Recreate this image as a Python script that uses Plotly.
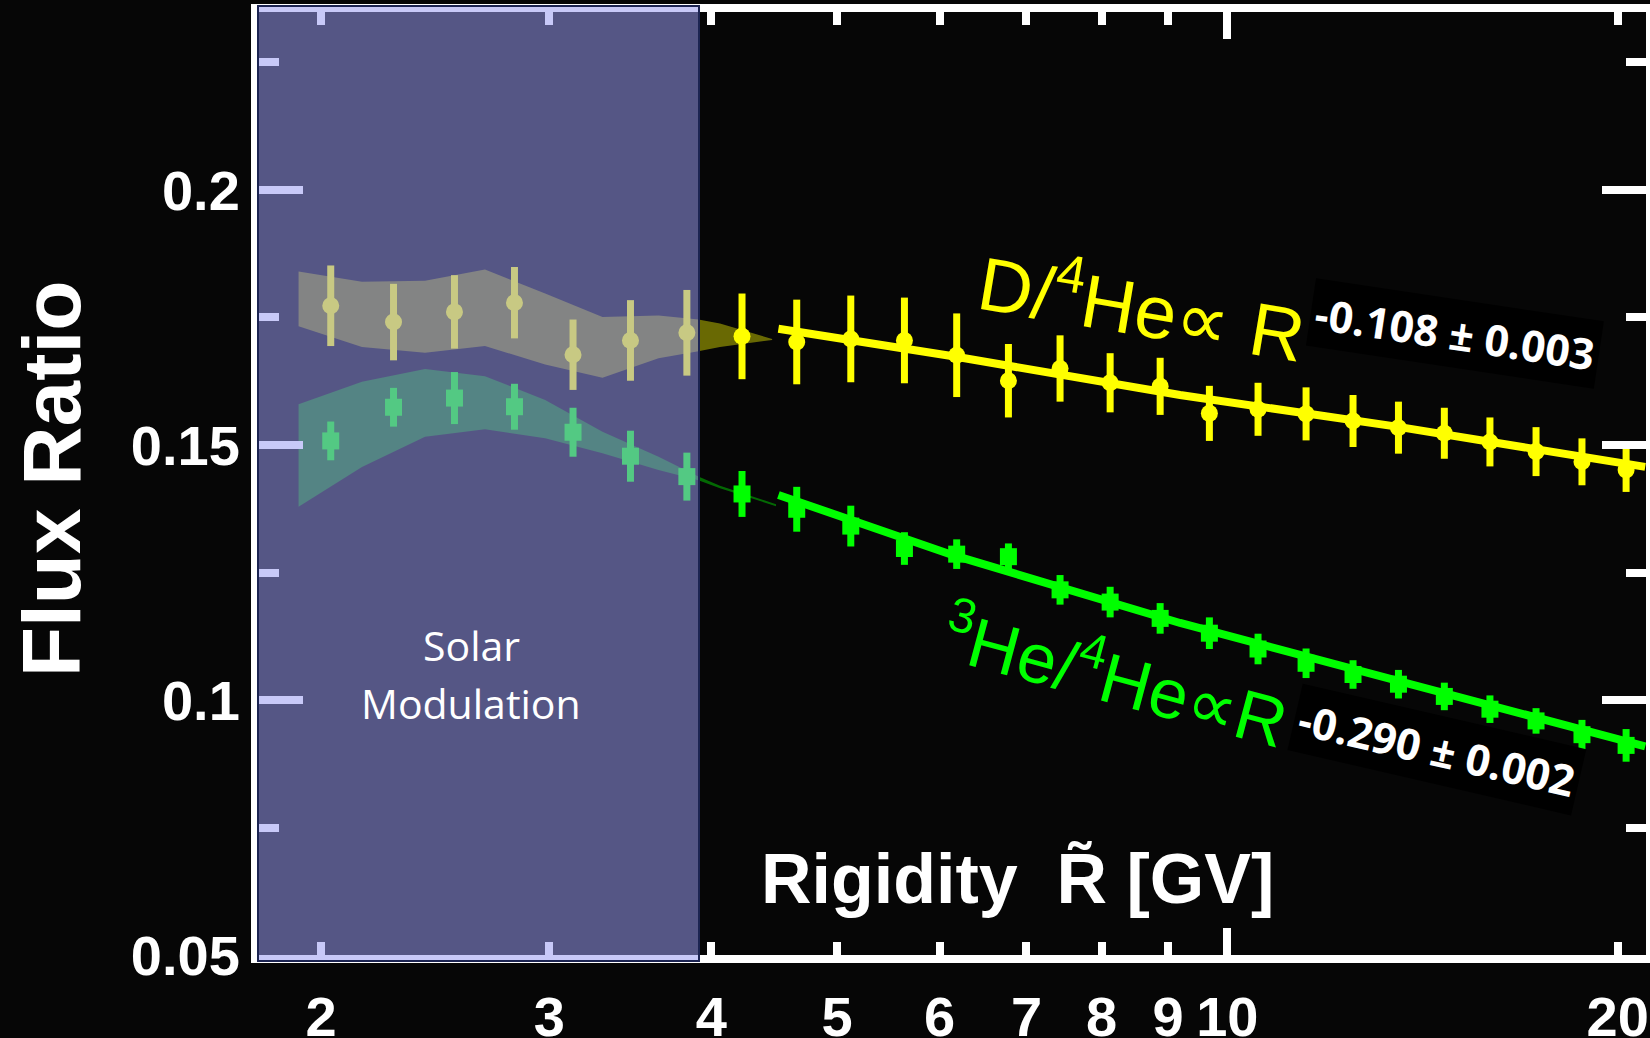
import math
import plotly.graph_objects as go

# ---------------- data ----------------
rigidity = [2.035, 2.275, 2.535, 2.820, 3.129, 3.465, 3.830, 4.224, 4.655, 5.124,
            5.636, 6.184, 6.779, 7.430, 8.121, 8.875, 9.686, 10.56, 11.50, 12.50,
            13.55, 14.70, 15.94, 17.30, 18.77, 20.30]
d_he4 = [0.1773, 0.1741, 0.1761, 0.1779, 0.1677, 0.1705, 0.1720, 0.1713, 0.1702, 0.1708,
         0.1705, 0.1676, 0.1626, 0.1650, 0.1622, 0.1615, 0.1562, 0.1570, 0.1561, 0.1547,
         0.1534, 0.1523, 0.1506, 0.1487, 0.1467, 0.1451]
d_he4_err = [0.0079, 0.0075, 0.0072, 0.0070, 0.0069, 0.0079, 0.0084, 0.0084, 0.0083, 0.0085,
             0.0084, 0.0082, 0.0072, 0.0065, 0.0058, 0.0056, 0.0054, 0.0052, 0.0052, 0.0051,
             0.0051, 0.0050, 0.0048, 0.0048, 0.0046, 0.0043]
he3_he4 = [0.1508, 0.1574, 0.1592, 0.1575, 0.1525, 0.1478, 0.1438, 0.1404, 0.1374, 0.1341,
           0.1297, 0.1286, 0.1281, 0.1216, 0.1192, 0.1160, 0.1131, 0.1100, 0.1072, 0.1050,
           0.1031, 0.1007, 0.0982, 0.0959, 0.0932, 0.0911]
he3_he4_err = [0.0038, 0.0038, 0.0051, 0.0045, 0.0048, 0.0050, 0.0047, 0.0045, 0.0044, 0.0040,
               0.0032, 0.0029, 0.0026, 0.0029, 0.0030, 0.0030, 0.0031, 0.0030, 0.0029, 0.0028,
               0.0028, 0.0027, 0.0027, 0.0025, 0.0029, 0.0032]

# solar-modulation model bands
d_band_R = [1.922, 2.151, 2.406, 2.676, 2.978, 3.297, 3.642, 3.909, 4.062, 4.456]
d_band_hi = [0.1840, 0.1820, 0.1822, 0.1844, 0.1797, 0.1751, 0.1754, 0.1746, 0.1738, 0.1708]
d_band_lo = [0.1733, 0.1692, 0.1681, 0.1694, 0.1658, 0.1632, 0.1670, 0.1684, 0.1692, 0.1706]
he_band_R = [1.922, 2.151, 2.406, 2.676, 2.978, 3.297, 3.642, 3.909, 4.062, 4.487]
he_band_hi = [0.1580, 0.1624, 0.1649, 0.1635, 0.1588, 0.1526, 0.1477, 0.1438, 0.1420, 0.1384]
he_band_lo = [0.1379, 0.1457, 0.1516, 0.1531, 0.1513, 0.1484, 0.1451, 0.1431, 0.1415, 0.1380]

# power-law fit lines
fit_R = [4.506, 6.145, 9.195, 13.51, 21.0]
d_fit = [0.1728, 0.1674, 0.1598, 0.1536, 0.1457]
he_fit = [0.1402, 0.1284, 0.1151, 0.1040, 0.0909]

x_tick_vals = [2, 3, 4, 5, 6, 7, 8, 9, 10, 20]
x_tick_text = ["2", "3", "4", "5", "6", "7", "8", "9", "10", "20"]
y_tick_vals = [0.05, 0.1, 0.15, 0.2]
y_tick_text = ["0.05", "0.1", "0.15", "0.2"]
y_minor_vals = [0.075, 0.125, 0.175, 0.225]
x_range = [1.7916, 21.03]
y_range = [0.05, 0.2349]

# ---------------- layout geometry ----------------
W, H = 1650, 1038
ML, MR, MT, MB = 259, 4, 12, 83
PW, PH = W - ML - MR, H - MT - MB


def xp(px):
    return (px - ML) / PW


def yp(py):
    return (H - MB - py) / PH


YEL = "#ffff00"
GRN = "#00ff00"
WHITE = "#ffffff"
BG = "#060606"

fig = go.Figure()

# bands
fig.add_trace(go.Scatter(x=d_band_R + d_band_R[::-1], y=d_band_hi + d_band_lo[::-1],
                         fill="toself", fillcolor="rgba(255,255,0,0.40)", line=dict(width=0),
                         mode="lines", hoverinfo="skip"))
fig.add_trace(go.Scatter(x=he_band_R + he_band_R[::-1], y=he_band_hi + he_band_lo[::-1],
                         fill="toself", fillcolor="rgba(0,255,0,0.40)", line=dict(width=0),
                         mode="lines", hoverinfo="skip"))

# fit lines (on overlaying x axis that also carries the long "10" tick)
fig.add_trace(go.Scatter(x=fit_R, y=d_fit, mode="lines", line=dict(color=YEL, width=8),
                         xaxis="x2", yaxis="y"))
fig.add_trace(go.Scatter(x=fit_R, y=he_fit, mode="lines", line=dict(color=GRN, width=8),
                         xaxis="x2", yaxis="y"))

# data points
fig.add_trace(go.Scatter(x=rigidity, y=d_he4, mode="markers",
                         marker=dict(symbol="circle", size=17, color=YEL, line=dict(width=0)),
                         error_y=dict(type="data", array=d_he4_err, color=YEL, thickness=7, width=0)))
fig.add_trace(go.Scatter(x=rigidity, y=he3_he4, mode="markers",
                         marker=dict(symbol="square", size=17, color=GRN, line=dict(width=0)),
                         error_y=dict(type="data", array=he3_he4_err, color=GRN, thickness=7, width=0)))

lr = [math.log10(x_range[0]), math.log10(x_range[1])]
tickfont = dict(family="Liberation Sans, Arial, sans-serif", size=56, color=WHITE, weight="bold")

fig.update_layout(
    width=W, height=H, autosize=False,
    margin=dict(l=ML, r=MR, t=MT, b=MB, pad=0, autoexpand=False),
    paper_bgcolor=BG, plot_bgcolor=BG,
    showlegend=False,
    xaxis=dict(type="log", range=lr, tickmode="array", tickvals=x_tick_vals, ticktext=x_tick_text,
               ticks="inside", ticklen=13, tickwidth=8, tickcolor=WHITE,
               showline=True, linewidth=8, linecolor=WHITE, mirror="ticks",
               showgrid=False, zeroline=False, tickfont=tickfont, ticklabelstandoff=6,
               automargin=False),
    xaxis2=dict(type="log", range=lr, overlaying="x", anchor="y", side="bottom",
                tickmode="array", tickvals=[10], ticks="inside", ticklen=27, tickwidth=8,
                tickcolor=WHITE, showticklabels=False, showline=False, mirror="ticks",
                showgrid=False, zeroline=False, automargin=False),
    yaxis=dict(range=y_range, tickmode="array", tickvals=y_tick_vals, ticktext=y_tick_text,
               ticks="inside", ticklen=44, tickwidth=8, tickcolor=WHITE,
               showline=True, linewidth=8, linecolor=WHITE, mirror="ticks",
               showgrid=False, zeroline=False, tickfont=tickfont, ticklabelstandoff=0,
               automargin=False,
               minor=dict(tickmode="array", tickvals=y_minor_vals, ticks="inside", ticklen=20,
                          tickwidth=8, tickcolor=WHITE, showgrid=False)),
)

# solar modulation overlay
fig.add_shape(type="rect", xref="paper", yref="paper",
              x0=xp(258), x1=xp(699), y0=yp(961), y1=yp(6),
              fillcolor="rgba(153,156,242,0.54)", line=dict(color="#1c2452", width=2),
              layer="above")

ann = []
ann.append(dict(text="Solar", x=xp(471.5), y=yp(645), xref="paper", yref="paper",
                showarrow=False, xanchor="center", yanchor="middle",
                font=dict(family="Open Sans, Noto Sans, sans-serif", size=41, color=WHITE)))
ann.append(dict(text="Modulation", x=xp(470.6), y=yp(703), xref="paper", yref="paper",
                showarrow=False, xanchor="center", yanchor="middle",
                font=dict(family="Open Sans, Noto Sans, sans-serif", size=41, color=WHITE)))
ann.append(dict(text="Flux Ratio", x=xp(52), y=yp(479), xref="paper", yref="paper",
                showarrow=False, xanchor="center", yanchor="middle", textangle=-90,
                font=dict(family="Liberation Sans, Arial, sans-serif", size=82, color=WHITE,
                          weight="bold")))
ann.append(dict(text="Rigidity\u00a0\u00a0R\u0303 [GV]", x=xp(1017), y=yp(879),
                xref="paper", yref="paper", showarrow=False, xanchor="center", yanchor="middle",
                font=dict(family="Liberation Sans, Arial, sans-serif", size=70, color=WHITE,
                          weight="bold")))
ann.append(dict(text="D/<sup>4</sup>He\u221d R", x=xp(1142), y=yp(304), xref="paper", yref="paper",
                showarrow=False, xanchor="center", yanchor="middle", textangle=9.5,
                font=dict(family="Liberation Sans, Arial, sans-serif", size=75, color=YEL)))
ann.append(dict(text="-0.108 \u00b1 0.003", x=xp(1455), y=yp(333), xref="paper", yref="paper",
                showarrow=False, xanchor="center", yanchor="middle", textangle=8.5,
                bgcolor="#000000", borderpad=4,
                font=dict(family="Open Sans, Noto Sans, sans-serif", size=43, color=WHITE,
                          weight="bold")))
ann.append(dict(text="<sup>3</sup>He/<sup>4</sup>He\u221dR", x=xp(1115.5), y=yp(674.5),
                xref="paper", yref="paper", showarrow=False, xanchor="center", yanchor="middle",
                textangle=15,
                font=dict(family="Liberation Sans, Arial, sans-serif", size=70, color=GRN)))
ann.append(dict(text="-0.290 \u00b1 0.002", x=xp(1436.7), y=yp(749), xref="paper", yref="paper",
                showarrow=False, xanchor="center", yanchor="middle", textangle=13,
                bgcolor="#000000", borderpad=4,
                font=dict(family="Open Sans, Noto Sans, sans-serif", size=43, color=WHITE,
                          weight="bold")))
fig.update_layout(annotations=ann)

fig.write_html("out.html", config={"displayModeBar": False},
               post_script="document.body.style.margin='0';document.body.style.overflow='hidden';")
